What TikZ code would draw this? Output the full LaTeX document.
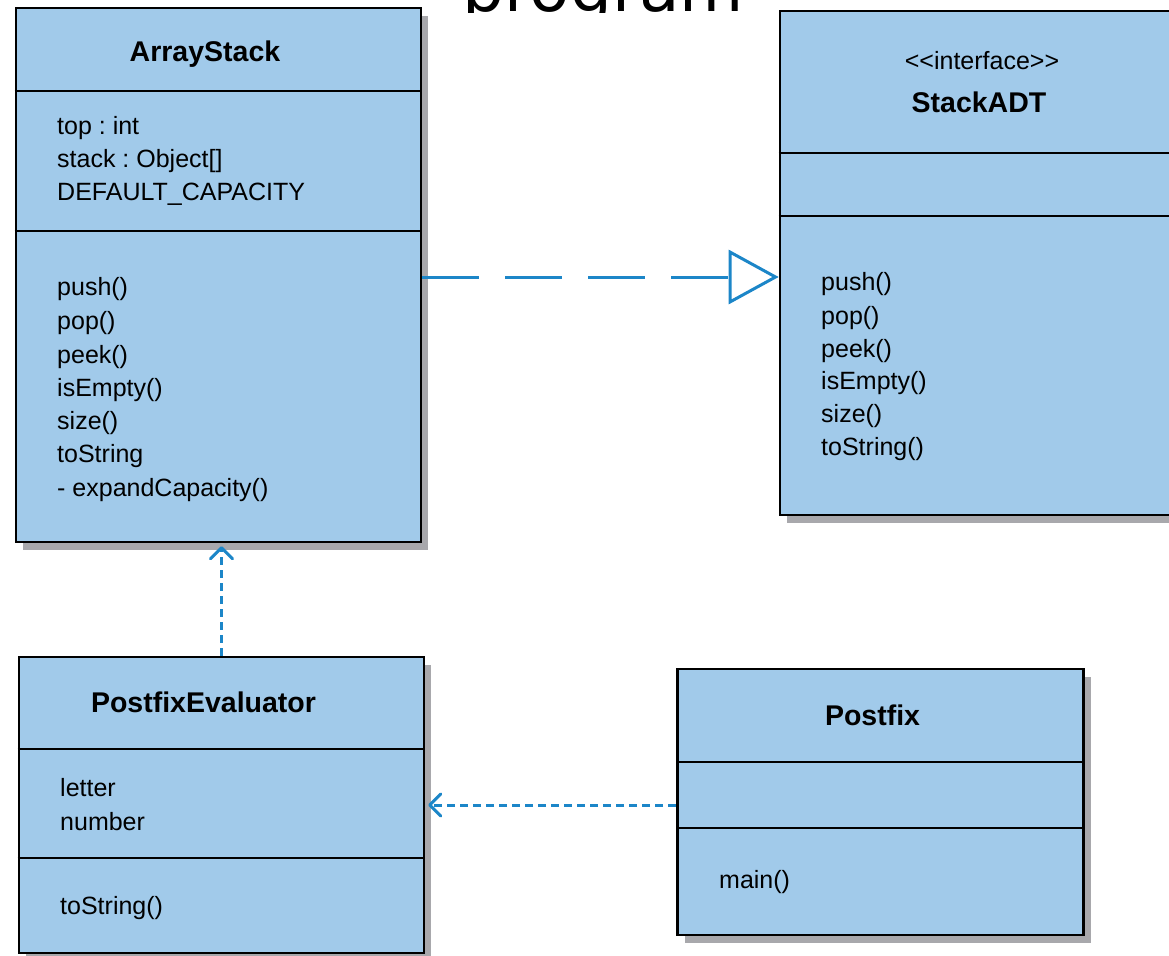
\documentclass[tikz,border=0pt]{standalone}
\usepackage{fontspec}
\setmainfont{Liberation Sans}
\newfontfamily\stereofont{Liberation Sans}[Ligatures=TeXOff]
\newfontfamily\progfont{DejaVu Sans}
\usetikzlibrary{arrows.meta,shadows}
\definecolor{classfill}{RGB}{161,202,234}
\definecolor{arrowblue}{RGB}{28,134,200}
\definecolor{shadowgray}{RGB}{168,168,172}
\frenchspacing
\tikzset{
  classbox/.style={draw=black, line width=2.6pt, fill=classfill, inner sep=0pt,
    drop shadow={shadow xshift=7pt, shadow yshift=-8pt, fill=shadowgray, opacity=1}},
  divider/.style={draw=black, line width=2.3pt},
  member/.style={anchor=base west, inner sep=0pt, font=\fontsize{25pt}{33pt}\selectfont},
  title/.style={anchor=base, inner sep=0pt, font=\fontsize{28.5pt}{34pt}\selectfont\bfseries},
  stereo/.style={anchor=base, inner sep=0pt, font=\stereofont\fontsize{25pt}{33pt}\selectfont},
  realize/.style={draw=arrowblue, line width=3pt, dash pattern=on 57pt off 26pt,
    -{Triangle[open, length=50pt, width=54pt, line width=3pt, fill=white]}},
  depend/.style={draw=arrowblue, line width=3pt, dash pattern=on 8pt off 5pt,
    -{Straight Barb[length=11pt, width=22pt, line width=3pt, round]}},
}
\begin{document}
\begin{tikzpicture}[x=1pt,y=-1pt]
\useasboundingbox (0,0) rectangle (1169,955);
\clip (0,0) rectangle (1169,955);

% partially visible heading
\begin{scope}
  \clip (440,0) rectangle (760,13);
  \node[anchor=base, inner sep=0pt, font=\progfont\fontsize{66pt}{70pt}\selectfont] (heading) at (603,12) {program};
\end{scope}

% ArrayStack
\node[classbox, minimum width=405pt, minimum height=534pt] (AS) at (218.5,275) {};
\draw[divider] (AS.west |- 0,91) -- (AS.east |- 0,91);
\draw[divider] (AS.west |- 0,231) -- (AS.east |- 0,231);
\node[title] (AStitle) at (205,62) {ArrayStack};
\node[member] (ASa1) at (57,135) {top : int};
\node[member] (ASa2) at (57,167) {stack : Object[]};
\node[member] (ASa3) at (57,200) {DEFAULT\_CAPACITY};
\node[member] (ASm1) at (57,295) {push()};
\node[member] (ASm2) at (57,329) {pop()};
\node[member] (ASm3) at (57,363) {peek()};
\node[member] (ASm4) at (57,396) {isEmpty()};
\node[member] (ASm5) at (57,429) {size()};
\node[member] (ASm6) at (57,462) {toString};
\node[member] (ASm7) at (57,496) {- expandCapacity()};

% StackADT
\node[classbox, minimum width=405pt, minimum height=504pt] (SA) at (982.5,263) {};
\draw[divider] (SA.west |- 0,153) -- (SA.east |- 0,153);
\draw[divider] (SA.west |- 0,216) -- (SA.east |- 0,216);
\node[stereo] (SAst) at (982,70) {<<interface>>};
\node[title] (SAtitle) at (979,113) {StackADT};
\node[member] (SAm1) at (821,290) {push()};
\node[member] (SAm2) at (821,324) {pop()};
\node[member] (SAm3) at (821,357) {peek()};
\node[member] (SAm4) at (821,389) {isEmpty()};
\node[member] (SAm5) at (821,422) {size()};
\node[member] (SAm6) at (821,455) {toString()};

% PostfixEvaluator
\node[classbox, minimum width=405pt, minimum height=296pt] (PE) at (221.5,805) {};
\draw[divider] (PE.west |- 0,749) -- (PE.east |- 0,749);
\draw[divider] (PE.west |- 0,858) -- (PE.east |- 0,858);
\node[title] (PEtitle) at (203.5,712) {PostfixEvaluator};
\node[member] (PEa1) at (60,796) {letter};
\node[member] (PEa2) at (60,830) {number};
\node[member] (PEm1) at (60,914) {toString()};

% Postfix
\node[classbox, minimum width=406pt, minimum height=266pt] (PF) at (880.5,802) {};
\draw[divider] (PF.west |- 0,762) -- (PF.east |- 0,762);
\draw[divider] (PF.west |- 0,828) -- (PF.east |- 0,828);
\node[title] (PFtitle) at (872.5,725) {Postfix};
\node[member] (PFm1) at (719,888) {main()};

% connectors
\draw[realize] ([yshift=-2pt]AS.east) -- ([yshift=-2pt]AS.east -| SA.west);
\draw[depend] (PE.north) -- ([yshift=-3pt]PE.north |- AS.south);
\draw[depend] ([yshift=-3pt]PF.west) -- ([xshift=3pt,yshift=-3pt]PF.west -| PE.east);
\end{tikzpicture}
\end{document}
